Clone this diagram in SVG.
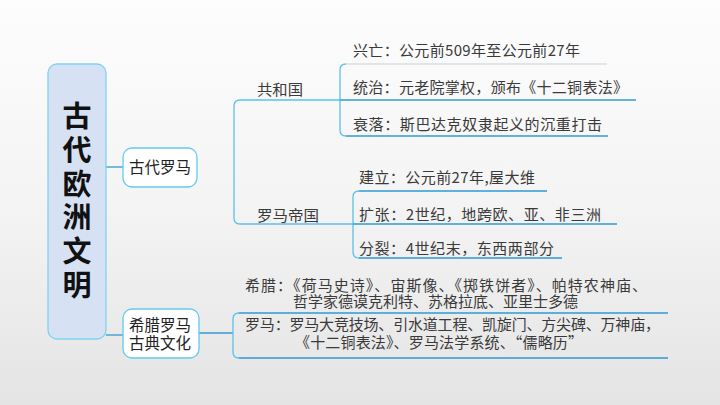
<svg xmlns="http://www.w3.org/2000/svg" width="720" height="405" viewBox="0 0 720 405">
  <defs>
    <linearGradient id="bg" x1="0" y1="0" x2="0" y2="1">
      <stop offset="0" stop-color="#fdfdfd"/>
      <stop offset="0.5" stop-color="#f4f4f4"/>
      <stop offset="1" stop-color="#e4e4e4"/>
    </linearGradient>
  </defs>
  <style>
    .ln { fill: none; stroke: #2e9ad6; stroke-width: 1.3; }
    .lt { fill: none; stroke: #5cc0ea; stroke-width: 1.3; }
    .fd { fill: none; stroke: #d3dfe6; stroke-width: 1.3; }
    .box { fill: #ffffff; stroke: #62cdec; stroke-width: 1.3; }
    .main { fill: #d6e1f4; stroke: #7ed3ef; stroke-width: 1.3; }
    .t { font-family: "Noto Sans CJK SC", "Liberation Sans", sans-serif; font-size: 15px; fill: #3a3a3a; }
    .title { font-family: "Noto Sans CJK SC", "Liberation Sans", sans-serif; font-size: 29px; font-weight: bold; fill: #111; text-anchor: middle; }
    .nt { font-family: "Noto Sans CJK SC", "Liberation Sans", sans-serif; font-size: 15.5px; fill: #222; text-anchor: middle; }
  </style>
  <rect x="0" y="0" width="720" height="405" fill="url(#bg)"/>

  <g id="connectors">
    <line class="ln" x1="106" y1="167" x2="123" y2="167"/>
    <line class="ln" x1="106" y1="335" x2="123" y2="335"/>
    <line class="ln" x1="199" y1="333" x2="233" y2="333"/>
    <!-- main bracket 古代罗马 -->
    <path class="lt" d="M 340,100 H 240 Q 234,100 234,106 V 218 Q 234,224 240,224 H 353"/>
    <!-- 共和国 sub-bracket -->
    <path class="lt" d="M 346,64 Q 340,64 340,70 V 130 Q 340,136 346,136"/>
    <line class="fd" x1="346" y1="64" x2="607" y2="64"/>
    <line class="ln" x1="340" y1="100" x2="636" y2="100"/>
    <line class="ln" x1="346" y1="136" x2="608" y2="136"/>
    <!-- 罗马帝国 sub-bracket -->
    <path class="lt" d="M 359,191 Q 353,191 353,197 V 252 Q 353,258 359,258"/>
    <line class="ln" x1="359" y1="191" x2="547" y2="191"/>
    <line class="ln" x1="353" y1="224" x2="617" y2="224"/>
    <line class="ln" x1="359" y1="258" x2="562" y2="258"/>
    <!-- culture bracket -->
    <path class="lt" d="M 239,313 Q 233,313 233,319 V 352 Q 233,358 239,358"/>
    <line class="ln" x1="239" y1="313" x2="668" y2="313"/>
    <line class="ln" x1="239" y1="358" x2="668" y2="358"/>
  </g>

  <g id="main">
    <rect class="main" x="48" y="64" width="58" height="275" rx="9"/>
    <text class="title" x="77" y="127">古</text>
    <text class="title" x="77" y="161">代</text>
    <text class="title" x="77" y="195">欧</text>
    <text class="title" x="77" y="228">洲</text>
    <text class="title" x="77" y="262">文</text>
    <text class="title" x="77" y="296">明</text>
  </g>

  <g id="rome">
    <rect class="box" x="123" y="148" width="74" height="39" rx="9"/>
    <text class="nt" x="160" y="173">古代罗马</text>
  </g>

  <g id="culture">
    <rect class="box" x="123" y="309" width="76" height="49" rx="9"/>
    <text class="nt" x="160" y="331">希腊罗马</text>
    <text class="nt" x="160" y="349">古典文化</text>
  </g>

  <g id="republic">
    <text class="t" x="257" y="95" textLength="46" lengthAdjust="spacingAndGlyphs">共和国</text>
  </g>
  <g id="empire">
    <text class="t" x="257" y="221" textLength="62" lengthAdjust="spacingAndGlyphs">罗马帝国</text>
  </g>

  <g id="rep-items">
    <text class="t" x="353" y="56" textLength="227">兴亡：公元前509年至公元前27年</text>
    <text class="t" x="353" y="93" textLength="275">统治：元老院掌权，颁布《十二铜表法》</text>
    <text class="t" x="353" y="130" textLength="249">衰落：斯巴达克奴隶起义的沉重打击</text>
  </g>

  <g id="emp-items">
    <text class="t" x="359" y="183" textLength="176">建立：公元前27年,屋大维</text>
    <text class="t" x="359" y="220" textLength="242">扩张：2世纪，地跨欧、亚、非三洲</text>
    <text class="t" x="359" y="254" textLength="195">分裂：4世纪末，东西两部分</text>
  </g>

  <g id="culture-items">
    <text class="t" x="245" y="291" textLength="402">希腊：《荷马史诗》、宙斯像、《掷铁饼者》、帕特农神庙、</text>
    <text class="t" x="293" y="307" textLength="285">哲学家德谟克利特、苏格拉底、亚里士多德</text>
    <text class="t" x="245" y="330" textLength="415">罗马：罗马大竞技场、引水道工程、凯旋门、方尖碑、万神庙，</text>
    <text class="t" x="295" y="348" textLength="288">《十二铜表法》、罗马法学系统、“儒略历”</text>
  </g>
</svg>
